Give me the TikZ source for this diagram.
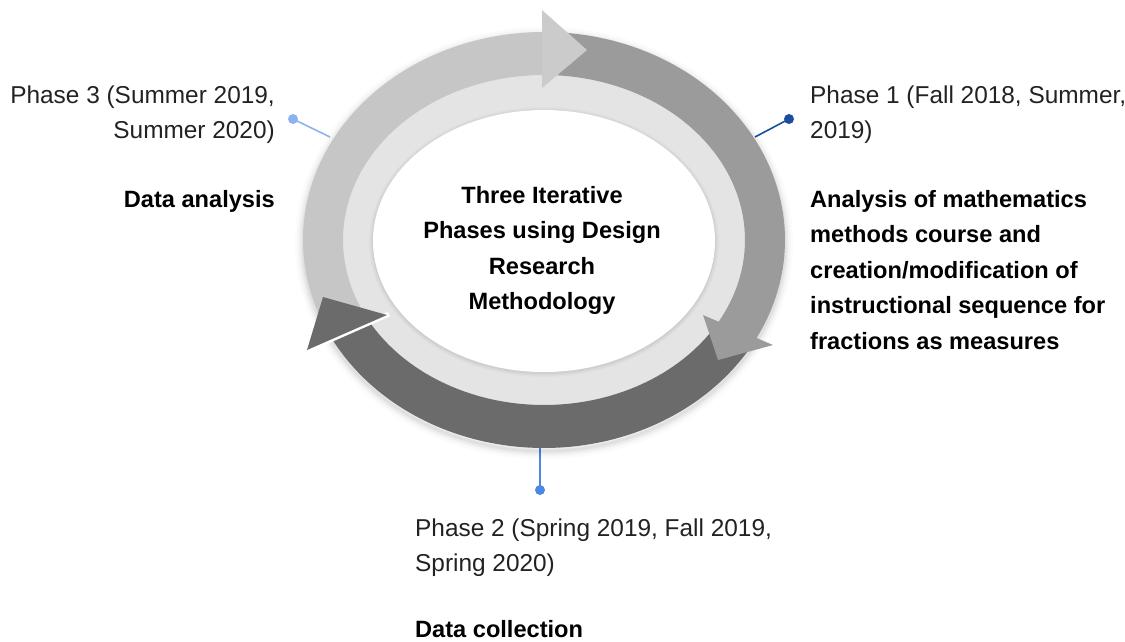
\documentclass[tikz,border=0pt]{standalone}
\usepackage{fontspec}
\setmainfont{Liberation Sans}
\definecolor{txtc}{HTML}{222222}
\definecolor{fillc}{HTML}{E4E4E4}
\definecolor{lightc}{HTML}{C6C6C6}
\definecolor{lighthead}{HTML}{CBCBCB}
\definecolor{midc}{HTML}{9B9B9B}
\definecolor{darkc}{HTML}{6B6B6B}
\definecolor{blueA}{HTML}{8DB3EE}
\definecolor{blueB}{HTML}{1D4E9E}
\definecolor{blueC}{HTML}{4A87E6}
\begin{document}
\begin{tikzpicture}[x=1pt,y=-1pt,
  txt/.style={inner sep=0pt, font=\fontsize{24.4}{34.5}\selectfont, text=txtc},
  bld/.style={inner sep=0pt, font=\fontsize{23.6}{35.5}\selectfont\bfseries, text=black},
  dotnode/.style={circle, inner sep=0pt, minimum size=10pt, fill=#1},
  conn/.style={draw=#1, line width=1.6pt},
]
\useasboundingbox (0,0) rectangle (1125,641);

% connectors
\coordinate (c3) at (330,137);
\coordinate (c1) at (755,137);
\coordinate (c2) at (540,448);
\node[dotnode=blueA] (d3) at (293,119) {};
\node[dotnode=blueB] (d1) at (789,119) {};
\node[dotnode=blueC] (d2) at (540,490) {};
\draw[conn=blueA] (d3.center) -- (c3);
\draw[conn=blueB] (d1.center) -- (c1);
\draw[conn=blueC] (d2.center) -- (c2);

% soft shadow
\foreach \w/\o in {16/0.015, 11/0.025, 7/0.035, 3/0.05}
  \draw[black, opacity=\o, line width=\w pt] (544,243) ellipse [x radius=241, y radius=208];

% ring interior
\fill[fillc] (544,240) ellipse [x radius=203, y radius=167];
\foreach \w/\o in {8/0.02, 5/0.03, 2/0.04}
  \draw[black, opacity=\o, line width=\w pt] (544,242) ellipse [x radius=171, y radius=131];
\fill[white] (544,241) ellipse [x radius=171, y radius=131];

% dark arc (bottom)
\fill[darkc] plot[domain=-32:-151, samples=80, variable=\t] ({544+241*cos(\t)},{240-208*sin(\t)})
  -- plot[domain=-151:-32, samples=80, variable=\t] ({544+201*cos(\t)},{240-165*sin(\t)}) -- cycle;
% mid arc (right)
\fill[midc] plot[domain=89:-30, samples=80, variable=\t] ({544+241*cos(\t)},{240-208*sin(\t)})
  -- plot[domain=-30:89, samples=80, variable=\t] ({544+201*cos(\t)},{240-165*sin(\t)}) -- cycle;
\fill[midc] (703,315) -- (773,345) -- (718,360) -- cycle;
% light arc (left)
\fill[lightc] plot[domain=205:90.5, samples=80, variable=\t] ({544+241*cos(\t)},{240-208*sin(\t)})
  -- plot[domain=90.5:205, samples=80, variable=\t] ({544+201*cos(\t)},{240-165*sin(\t)}) -- cycle;
\fill[lighthead] (542,10) -- (587,50) -- (542,88) -- cycle;
% dark arrowhead
\draw[white, line width=5pt] (389,314) -- (305,351);
\fill[darkc] (323,297) -- (387,315) -- (307,350) -- cycle;

% texts
\node[txt, align=right, anchor=north east] (p3) at (275,86) {Phase 3 (Summer 2019,\\Summer 2020)};
\node[bld, anchor=base east] (p3b) at (275,207) {Data analysis};
\node[txt, align=left, anchor=north west] (p1) at (810,86) {Phase 1 (Fall 2018, Summer,\\2019)};
\node[bld, align=left, anchor=north west] (p1b) at (810,190) {Analysis of mathematics\\methods course and\\creation/modification of\\instructional sequence for\\fractions as measures};
\node[bld, align=center, anchor=north] (ctr) at (542,186) {Three Iterative\\Phases using Design\\Research\\Methodology};
\node[txt, align=left, anchor=north west] (p2) at (415,519) {Phase 2 (Spring 2019, Fall 2019,\\Spring 2020)};
\node[bld, anchor=base west] (p2b) at (415,637) {Data collection};
\end{tikzpicture}
\end{document}
